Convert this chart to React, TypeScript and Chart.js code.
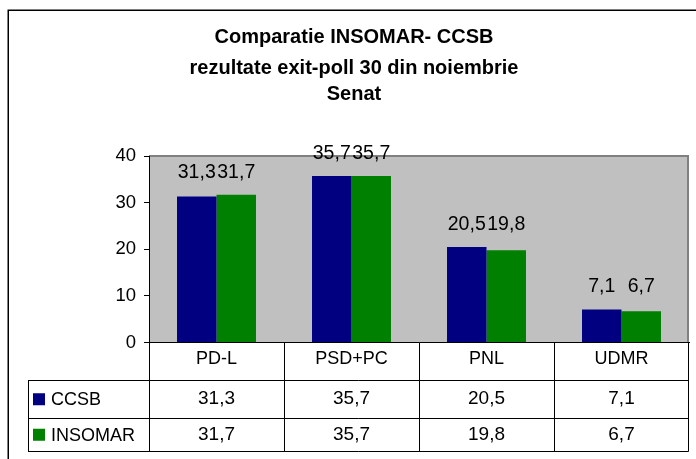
import React, { useEffect, useRef } from 'react';
import { Chart, registerables } from 'chart.js';

Chart.register(...registerables);

const categories = ['PD-L', 'PSD+PC', 'PNL', 'UDMR'];
const seriesNames = ['CCSB', 'INSOMAR'];
const ccsbValues = [31.3, 35.7, 20.5, 7.1];
const insomarValues = [31.7, 35.7, 19.8, 6.7];
const seriesColors = ['#000080', '#008000'];
const yTicks = [0, 10, 20, 30, 40];
const titleText = 'Comparatie INSOMAR- CCSB';
const subtitleLines = ['rezultate exit-poll 30 din noiembrie', 'Senat'];

const FONT = '"Liberation Sans", Arial, Helvetica, sans-serif';
const fmt = (v: number) => String(v).replace('.', ',');
const crisp = (p: number) => Math.round(p - 0.5) + 0.5;

const backgroundPlugin = {
  id: 'sheetBackground',
  beforeDraw(chart: any) {
    const { ctx, chartArea: a, width, height } = chart;
    ctx.save();
    ctx.fillStyle = '#ffffff';
    ctx.fillRect(0, 0, width, height);
    // outer frame
    ctx.strokeStyle = '#000000';
    ctx.lineWidth = 1.5;
    ctx.beginPath();
    ctx.moveTo(8.25, height + 2);
    ctx.lineTo(8.25, 10.25);
    ctx.lineTo(width + 2, 10.25);
    ctx.stroke();
    // plot area
    ctx.fillStyle = '#C0C0C0';
    ctx.fillRect(a.left, a.top, a.right - a.left, a.bottom - a.top);
    ctx.strokeStyle = '#808080';
    ctx.lineWidth = 2;
    ctx.beginPath();
    ctx.moveTo(a.left, a.top);
    ctx.lineTo(a.right - 1, a.top);
    ctx.lineTo(a.right - 1, a.bottom);
    ctx.stroke();
    ctx.restore();
  },
};

const valueLabelPlugin = {
  id: 'valueLabels',
  afterDatasetsDraw(chart: any) {
    const { ctx } = chart;
    const metas = chart.data.datasets.map((_: any, i: number) => chart.getDatasetMeta(i));
    ctx.save();
    ctx.font = `19.5px ${FONT}`;
    ctx.fillStyle = '#000000';
    ctx.textAlign = 'center';
    ctx.textBaseline = 'alphabetic';
    categories.forEach((_, j) => {
      const top = Math.min(...metas.map((m: any) => m.data[j].y));
      metas.forEach((m: any, i: number) => {
        const v = chart.data.datasets[i].data[j] as number;
        ctx.fillText(fmt(v), m.data[j].x, top - 17);
      });
    });
    ctx.restore();
  },
};

const tablePlugin = {
  id: 'dataTable',
  afterDraw(chart: any) {
    const { ctx, chartArea: a } = chart;
    const xs = chart.scales.x;
    const n = categories.length;
    const w = (xs.right - xs.left) / n;
    const tableLeft = 28;
    const rows = [a.bottom + 38, a.bottom + 75.5, a.bottom + 109];
    const line = (x1: number, y1: number, x2: number, y2: number) => {
      ctx.beginPath();
      ctx.moveTo(x1, y1);
      ctx.lineTo(x2, y2);
      ctx.stroke();
    };
    ctx.save();
    ctx.strokeStyle = '#000000';
    ctx.lineWidth = 1;
    rows.forEach((y) => line(tableLeft, crisp(y), crisp(xs.right - 1), crisp(y)));
    for (let k = 0; k <= n; k++) {
      const x = k === n ? crisp(xs.right - 1) : crisp(xs.left + k * w);
      line(x, crisp(a.bottom), x, crisp(rows[2]));
    }
    line(crisp(tableLeft), crisp(rows[0]), crisp(tableLeft), crisp(rows[2]));

    chart.data.datasets.forEach((ds: any, i: number) => {
      const cy = (rows[i] + rows[i + 1]) / 2;
      ctx.fillStyle = ds.backgroundColor;
      ctx.fillRect(33, cy - 6, 12, 12);
      ctx.fillStyle = '#000000';
      ctx.textBaseline = 'middle';
      ctx.textAlign = 'left';
      ctx.font = `18px ${FONT}`;
      ctx.fillText(seriesNames[i], 51, cy + 1);
      ctx.textAlign = 'center';
      ctx.font = `19px ${FONT}`;
      (ds.data as number[]).forEach((v, j) => {
        ctx.fillText(fmt(v), xs.getPixelForValue(j), cy);
      });
    });
    ctx.restore();
  },
};

export default function App() {
  const ref = useRef<HTMLCanvasElement>(null);

  useEffect(() => {
    if (!ref.current) return;
    const chart = new Chart(ref.current, {
      type: 'bar',
      data: {
        labels: categories,
        datasets: [
          {
            label: seriesNames[0],
            data: ccsbValues,
            backgroundColor: seriesColors[0],
            borderWidth: 0,
            categoryPercentage: 0.585,
            barPercentage: 1.0,
          },
          {
            label: seriesNames[1],
            data: insomarValues,
            backgroundColor: seriesColors[1],
            borderWidth: 0,
            categoryPercentage: 0.585,
            barPercentage: 1.0,
          },
        ],
      },
      options: {
        responsive: false,
        devicePixelRatio: 1,
        animation: false,
        layout: { padding: { top: 0, left: 12, right: 0, bottom: 83.9 } },
        plugins: {
          legend: { display: false },
          tooltip: { enabled: false },
          title: {
            display: true,
            text: titleText,
            color: '#000000',
            font: { family: FONT, size: 20, weight: 'bold' },
            padding: { top: 25, bottom: 0 },
          },
          subtitle: {
            display: true,
            text: subtitleLines,
            color: '#000000',
            font: { family: FONT, size: 20, weight: 'bold', lineHeight: '26px' },
            padding: { top: 6, bottom: 49 },
          },
        },
        scales: {
          x: {
            type: 'category',
            grid: { display: false, drawTicks: false },
            border: { display: true, color: '#000000', width: 1 },
            ticks: {
              color: '#000000',
              font: { family: FONT, size: 18 },
              padding: 5.5,
            },
          },
          y: {
            type: 'linear',
            position: 'left',
            min: 0,
            max: 40,
            grid: {
              display: true,
              drawOnChartArea: false,
              drawTicks: true,
              tickLength: 5,
              color: '#000000',
            },
            border: { display: true, color: '#000000', width: 1 },
            ticks: {
              color: '#000000',
              font: { family: FONT, size: 18.5 },
              padding: 8,
              stepSize: 10,
            },
            afterBuildTicks: (s: any) => {
              s.ticks = yTicks.map((v) => ({ value: v }));
            },
            afterFit: (s: any) => {
              s.width = 137;
            },
          },
          yRight: {
            type: 'linear',
            position: 'right',
            display: true,
            grid: { display: false, drawTicks: false },
            border: { display: false },
            ticks: { display: false },
            afterFit: (s: any) => {
              s.width = 7;
            },
          },
        },
      },
      plugins: [backgroundPlugin, valueLabelPlugin, tablePlugin],
    } as any);
    return () => chart.destroy();
  }, []);

  return (
    <div style={{ position: 'fixed', left: 0, top: 0, width: 696, height: 459, background: '#ffffff' }}>
      <canvas ref={ref} width={696} height={459} style={{ display: 'block', width: 696, height: 459 }} />
    </div>
  );
}
